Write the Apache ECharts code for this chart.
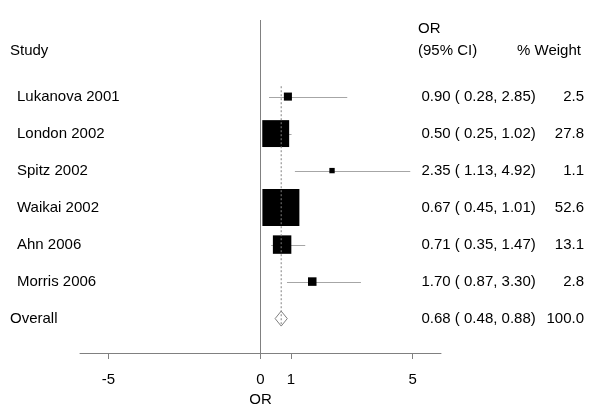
<!DOCTYPE html>
<html>
<head>
<meta charset="utf-8">
<script src="https://cdn.jsdelivr.net/npm/echarts@6/dist/echarts.min.js"></script>
<style>html,body{margin:0;padding:0;background:#fff}#c{width:600px;height:413px}</style>
</head>
<body>
<div id="c"></div>
<script>
// ---- data ----
var studies = ['Lukanova 2001', 'London 2002', 'Spitz 2002', 'Waikai 2002', 'Ahn 2006', 'Morris 2006'];
var orValues = [0.90, 0.50, 2.35, 0.67, 0.71, 1.70];
var ciLow = [0.28, 0.25, 1.13, 0.45, 0.35, 0.87];
var ciHigh = [2.85, 1.02, 4.92, 1.01, 1.47, 3.30];
var weights = [2.5, 27.8, 1.1, 52.6, 13.1, 2.8];
var overallLabel = 'Overall';
var overallOR = 0.68;
var overallLow = 0.48;
var overallHigh = 0.88;
var overallWeight = 100.0;
var tickValues = [-5, 0, 1, 5];

var FONT = '"Liberation Sans", Arial, Helvetica, sans-serif';
var FS = 15;
var overallRow = studies.length;

function ciText(o, l, h) {
  return o.toFixed(2) + ' ( ' + l.toFixed(2) + ', ' + h.toFixed(2) + ')';
}

var studyData = studies.map(function (s, i) {
  return [orValues[i], i, ciLow[i], ciHigh[i], weights[i]];
});

var textData = studies.map(function (s, i) {
  return { value: [0, i], name: s, ci: ciText(orValues[i], ciLow[i], ciHigh[i]), w: weights[i].toFixed(1), indent: 17 };
});
textData.push({ value: [0, overallRow], name: overallLabel, ci: ciText(overallOR, overallLow, overallHigh), w: overallWeight.toFixed(1), indent: 10 });

var chart = echarts.init(document.getElementById('c'), null, { renderer: 'canvas' });

var option = {
  animation: false,
  backgroundColor: '#fff',
  grid: { left: 80, right: 159, top: 20, bottom: 60 },
  xAxis: {
    type: 'value',
    min: -5.93,
    max: 5.93,
    name: 'OR',
    nameLocation: 'middle',
    nameGap: 38,
    nameTextStyle: { fontFamily: FONT, fontSize: FS, color: '#000' },
    axisLine: { show: true, onZero: false, lineStyle: { color: '#808080', width: 1 } },
    axisTick: { show: true, customValues: tickValues, length: 6, inside: false, lineStyle: { color: '#808080' } },
    axisLabel: { customValues: tickValues, margin: 19, fontFamily: FONT, fontSize: FS, color: '#000' },
    splitLine: { show: false }
  },
  yAxis: {
    type: 'value',
    inverse: true,
    min: -2.07,
    max: 6.93,
    show: false
  },
  series: [
    {
      type: 'line',
      data: [[0, -2.07], [0, 7.09]],
      symbol: 'none',
      clip: false,
      silent: true,
      lineStyle: { color: '#808080', width: 1 }
    },
    {
      type: 'line',
      data: [[overallOR, -0.28], [overallOR, overallRow + 0.15]],
      symbol: 'none',
      clip: false,
      silent: true,
      lineStyle: { color: '#808080', width: 1, type: [2, 2] }
    },
    {
      type: 'custom',
      clip: false,
      silent: true,
      data: studyData,
      renderItem: function (params, api) {
        var a = api.coord([api.value(2), api.value(1)]);
        var b = api.coord([api.value(3), api.value(1)]);
        return { type: 'line', shape: { x1: a[0], y1: Math.round(a[1]) + 0.5, x2: b[0], y2: Math.round(b[1]) + 0.5 }, style: { stroke: '#a6a6a6', lineWidth: 1 } };
      }
    },
    {
      type: 'custom',
      clip: false,
      silent: true,
      data: studyData,
      renderItem: function (params, api) {
        var c = api.coord([api.value(0), api.value(1)]);
        var s = 5.1 * Math.sqrt(api.value(4));
        return { type: 'rect', shape: { x: c[0] - s / 2, y: c[1] - s / 2, width: s, height: s }, style: { fill: '#000' } };
      }
    },
    {
      type: 'custom',
      clip: false,
      silent: true,
      data: [[overallOR, overallRow, overallLow, overallHigh]],
      renderItem: function (params, api) {
        var c = api.coord([api.value(0), api.value(1)]);
        var l = api.coord([api.value(2), api.value(1)]);
        var h = api.coord([api.value(3), api.value(1)]);
        var hh = 7.5;
        return {
          type: 'polygon',
          shape: { points: [[l[0], c[1]], [c[0], c[1] - hh], [h[0], c[1]], [c[0], c[1] + hh]] },
          style: { fill: 'rgba(255,255,255,0)', stroke: '#808080', lineWidth: 1 }
        };
      }
    },
    {
      type: 'custom',
      clip: false,
      silent: true,
      data: textData,
      renderItem: function (params, api) {
        var d = textData[params.dataIndex];
        var c = api.coord([0, api.value(1)]);
        var ts = function (t, x, align) {
          return { type: 'text', x: x, y: c[1], style: { text: t, fill: '#000', font: FS + 'px ' + FONT, textAlign: align, textVerticalAlign: 'middle' } };
        };
        return { type: 'group', children: [ts(d.name, d.indent, 'left'), ts(d.ci, 421.5, 'left'), ts(d.w, 584, 'right')] };
      }
    }
  ],
  graphic: [
    { type: 'text', left: 10, top: 43, style: { text: 'Study', fill: '#000', font: FS + 'px ' + FONT } },
    { type: 'text', left: 418, top: 21, style: { text: 'OR', fill: '#000', font: FS + 'px ' + FONT } },
    { type: 'text', left: 418, top: 43, style: { text: '(95% CI)', fill: '#000', font: FS + 'px ' + FONT } },
    { type: 'text', left: 517, top: 43, style: { text: '% Weight', fill: '#000', font: FS + 'px ' + FONT } }
  ]
};
chart.setOption(option);
</script>
</body>
</html>
